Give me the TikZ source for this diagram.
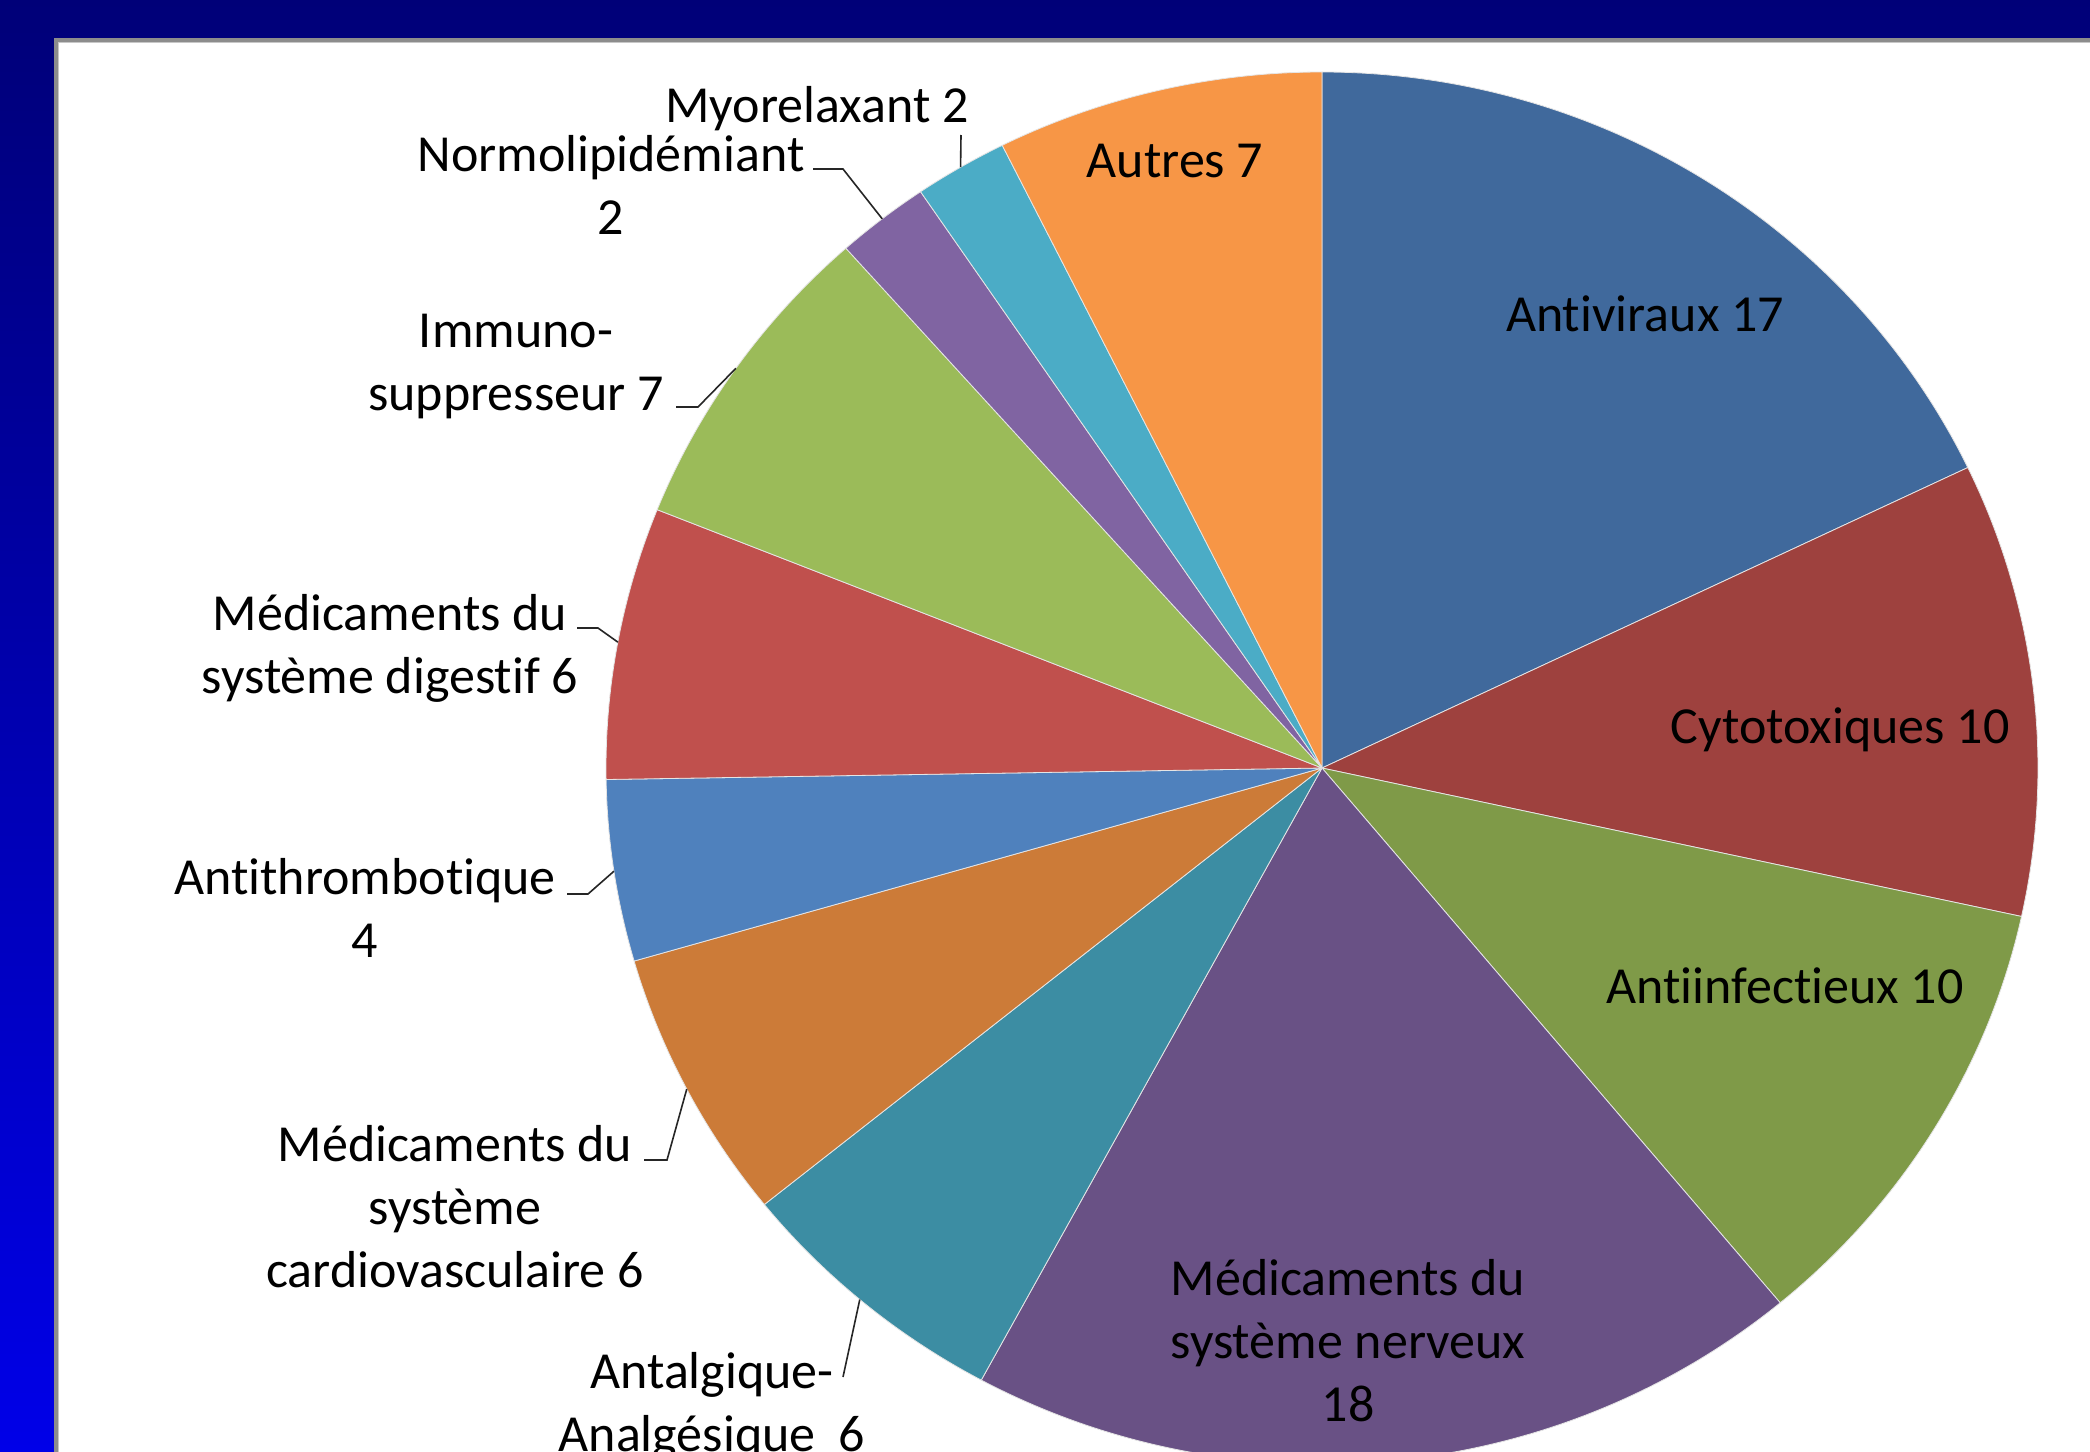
\documentclass[tikz,border=0pt]{standalone}
\usepackage{fontspec}
\setmainfont{Carlito}[Ligatures=NoCommon]
\usetikzlibrary{calc}
\definecolor{bgTop}{RGB}{0,0,120}
\definecolor{bgBot}{RGB}{0,0,232}
\definecolor{frameGray}{RGB}{140,140,140}
\definecolor{cAV}{RGB}{64,105,156}
\definecolor{cCY}{RGB}{158,65,62}
\definecolor{cAI}{RGB}{127,154,72}
\definecolor{cSN}{RGB}{105,81,133}
\definecolor{cAA}{RGB}{60,141,163}
\definecolor{cCV}{RGB}{204,123,56}
\definecolor{cAT}{RGB}{79,129,189}
\definecolor{cDG}{RGB}{192,80,77}
\definecolor{cIM}{RGB}{155,187,89}
\definecolor{cNO}{RGB}{128,100,162}
\definecolor{cMY}{RGB}{75,172,198}
\definecolor{cAU}{RGB}{247,150,70}
\begin{document}
\begin{tikzpicture}[x=1pt,y=1pt,
  lbl/.style={font=\fontsize{52}{63}\selectfont, inner sep=0pt, anchor=base, text=black},
  leader/.style={draw=black!85, line width=1.6pt},
  slice/.style={draw=white!90!black, line width=0.8pt, line join=round}]
\useasboundingbox (0,0) rectangle (2090,-1451);
\clip (0,0) rectangle (2090,-1451);
% background
\shade[top color=bgTop, bottom color=bgBot] (0,0) rectangle (2090,-1451);
\fill[white] (56,-40) rectangle (2100,-1470);
\draw[frameGray, line width=4pt] (56,-1470) -- (56,-40) -- (2100,-40);
\draw[black!22, line width=1pt] (58.5,-1470) -- (58.5,-42.5) -- (2100,-42.5);
% pie
\coordinate (C) at (1322,-768);
\foreach \a/\b/\c in {90/25.579/cAV, 25.579/-12.316/cCY, -12.316/-50.211/cAI,
  -50.211/-118.421/cSN, -118.421/-141.158/cAA, -141.158/-163.895/cCV,
  -163.895/-179.053/cAT, -179.053/-201.789/cDG, -201.789/-228.316/cIM,
  -228.316/-235.895/cNO, -235.895/-243.474/cMY, -243.474/-270/cAU}{
  \path[fill=\c, slice] (C) -- ++(\a:716 and 696)
    arc[start angle=\a, end angle=\b, x radius=716, y radius=696] -- cycle;
}
% labels inside
\node[lbl] (lAV) at (1645,-331) {Antiviraux 17};
\node[lbl] (lCY) at (1840,-743) {Cytotoxiques 10};
\node[lbl] (lAI) at (1785,-1003) {Antiinfectieux 10};
\node[lbl] (lSN) at (1348,-1295) {\begin{tabular}[t]{@{}c@{}}Médicaments du\\système nerveux\\18\end{tabular}};
\node[lbl] (lAU) at (1175,-177) {Autres 7};
% labels outside
\node[lbl] (lAA) at (712,-1388) {\begin{tabular}[t]{@{}c@{}}Antalgique-\\Analgésique~ 6\end{tabular}};
\node[lbl] (lCV) at (455,-1161) {\begin{tabular}[t]{@{}c@{}}Médicaments du\\système\\cardiovasculaire 6\end{tabular}};
\node[lbl] (lAT) at (365,-894) {\begin{tabular}[t]{@{}c@{}}Antithrombotique\\4\end{tabular}};
\node[lbl] (lDG) at (390,-630) {\begin{tabular}[t]{@{}c@{}}Médicaments du\\système digestif 6\end{tabular}};
\node[lbl] (lIM) at (516,-347) {\begin{tabular}[t]{@{}c@{}}Immuno-\\suppresseur 7\end{tabular}};
\node[lbl] (lNO) at (611,-171) {\begin{tabular}[t]{@{}c@{}}Normolipidémiant\\2\end{tabular}};
\node[lbl] (lMY) at (817,-122) {Myorelaxant 2};
% leader lines
\coordinate (sMY) at (961,-135);
\coordinate (eMY) at ($(C)+(120.32:716 and 696)$);
\coordinate (sNO) at (813,-169);
\coordinate (kNO) at (843,-169);
\coordinate (eNO) at ($(C)+(127.9:716 and 696)$);
\coordinate (sIM) at (676,-407);
\coordinate (kIM) at (698,-407);
\coordinate (eIM) at ($(C)+(144.95:716 and 696)$);
\coordinate (sDG) at (577,-628);
\coordinate (kDG) at (598,-628);
\coordinate (eDG) at ($(C)+(169.58:716 and 696)$);
\coordinate (sAT) at (567,-894);
\coordinate (kAT) at (588,-894);
\coordinate (eAT) at ($(C)+(188.53:716 and 696)$);
\coordinate (sCV) at (644,-1160);
\coordinate (kCV) at (667,-1160);
\coordinate (eCV) at ($(C)+(207.47:716 and 696)$);
\coordinate (sAA) at (843,-1377);
\coordinate (eAA) at ($(C)+(229.79:716 and 696)$);
\draw[leader] (sMY) -- (eMY);
\draw[leader] (sNO) -- (kNO) -- (eNO);
\draw[leader] (sIM) -- (kIM) -- (eIM);
\draw[leader] (sDG) -- (kDG) -- (eDG);
\draw[leader] (sAT) -- (kAT) -- (eAT);
\draw[leader] (sCV) -- (kCV) -- (eCV);
\draw[leader] (sAA) -- (eAA);
\end{tikzpicture}
\end{document}
